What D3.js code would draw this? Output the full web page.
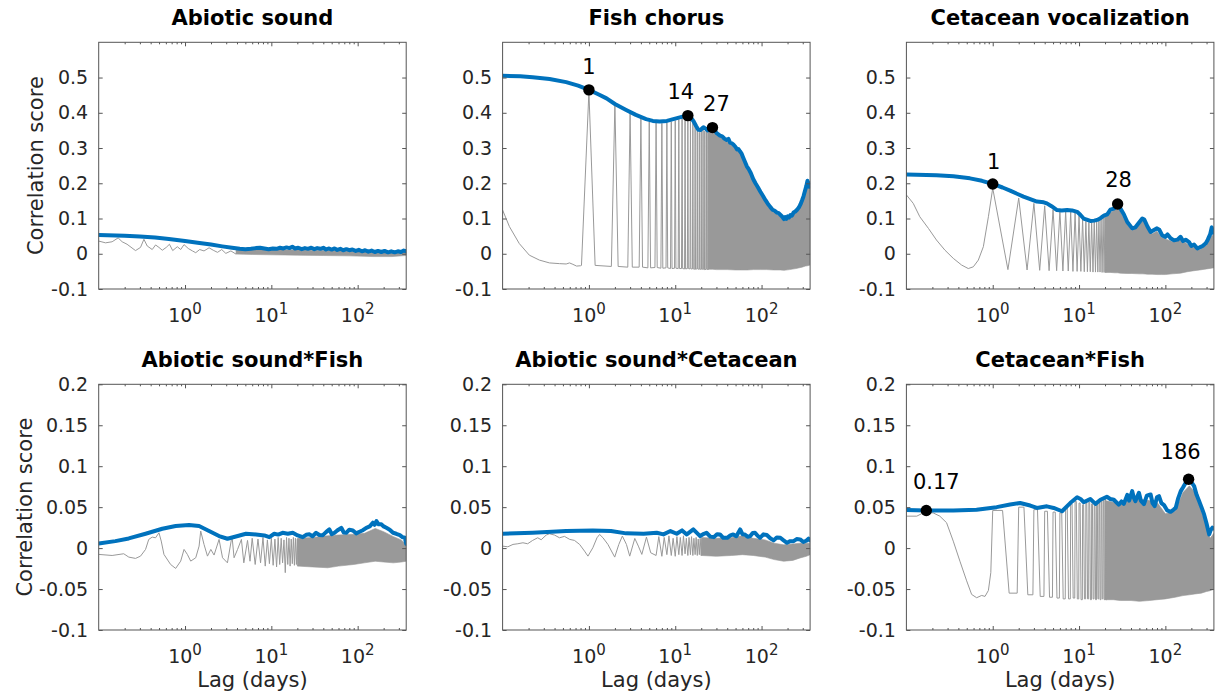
<!DOCTYPE html>
<html>
<head>
<meta charset="utf-8">
<script src="https://cdn.jsdelivr.net/npm/d3@7"></script>
<style>
  body { margin: 0; background: #fff; }
  svg { display: block; font-family: "DejaVu Sans", sans-serif; }
</style>
</head>
<body>
<svg id="chart" width="1220" height="694"></svg>
<script>
// ---------------- data ----------------
const lagDomain = [0.1, 365];
const xMajorTicks = [1, 10, 100];
const xMajorExponents = ["0", "1", "2"];
const yTicksTop = [-0.1, 0, 0.1, 0.2, 0.3, 0.4, 0.5];
const yTicksBottom = [-0.1, -0.05, 0, 0.05, 0.1, 0.15, 0.2];
const yDomainTop = [-0.1, 0.6];
const yDomainBottom = [-0.1, 0.2];
const panelTitles = ["Abiotic sound", "Fish chorus", "Cetacean vocalization",
                     "Abiotic sound*Fish", "Abiotic sound*Cetacean", "Cetacean*Fish"];
const yAxisLabel = "Correlation score";
const xAxisLabel = "Lag (days)";

// --- Abiotic sound ---
const abioticEnvelope = [[0.1,0.053],[0.2,0.051],[0.3,0.049],[0.45,0.046],[0.65,0.042],[1,0.036],[1.4,0.031],[2,0.026],[2.7,0.021],[3.5,0.017],[4.3,0.014],[5,0.013],[5.8,0.014],[6.6,0.016],[7.4,0.017],[8.3,0.015],[9.3,0.013],[10.4,0.015],[11.5,0.014],[12.6,0.017],[13.8,0.015],[15,0.018],[16.2,0.016],[17.5,0.02],[18.8,0.015],[20.5,0.017],[22.5,0.013],[24.5,0.016],[26.5,0.014],[29,0.017],[31.5,0.013],[34,0.016],[37,0.014],[40,0.017],[43,0.012],[46,0.015],[50,0.012],[54,0.015],[58,0.011],[63,0.014],[68,0.01],[74,0.013],[80,0.01],[87,0.012],[95,0.008],[103,0.011],[112,0.007],[122,0.01],[133,0.006],[145,0.009],[158,0.005],[172,0.008],[188,0.005],[205,0.008],[225,0.004],[245,0.007],[268,0.004],[292,0.007],[318,0.005],[342,0.009],[365,0.007]];
const abioticScoreHead = [[0.1,0.036],[0.12,0.031],[0.143,0.034],[0.168,0.045],[0.187,0.034],[0.213,0.027],[0.267,0.009],[0.305,0.018],[0.334,0.041],[0.365,0.022],[0.417,0.012],[0.456,0.025],[0.499,0.018],[0.545,0.01],[0.606,0.018],[0.66,0.027],[0.72,0.009],[0.814,0.02],[0.891,0.012],[0.974,0.026],[1.09,0.015],[1.22,0.008],[1.33,0.003],[1.48,0.012],[1.66,0.008],[1.9,0.017],[2.12,0.01],[2.38,0.004],[2.66,0.012],[2.97,0.001],[3.4,0.008],[3.9,-0.001]];
const abioticScoreBand = [[3.9,-0.001,0.012],[6,-0.002,0.012],[10,-0.003,0.011],[20,-0.004,0.011],[40,-0.005,0.009],[80,-0.006,0.007],[150,-0.008,0.004],[250,-0.008,0.004],[365,-0.005,0.005]];

// --- Fish chorus ---
const fishEnvelope = [[0.1,0.505],[0.16,0.504],[0.223,0.501],[0.35,0.496],[0.545,0.487],[0.75,0.477],[1,0.465],[1.3,0.452],[1.6,0.441],[2,0.425],[2.7,0.408],[3.5,0.394],[4.6,0.382],[5.5,0.377],[6.6,0.375],[8,0.377],[9.5,0.382],[11.3,0.387],[12.7,0.39],[14,0.392],[15.2,0.386],[16.3,0.376],[17.5,0.362],[18.5,0.352],[19.6,0.351],[21.2,0.359],[22.5,0.355],[23.6,0.35],[25,0.355],[27,0.358],[28.5,0.352],[30.2,0.342],[33,0.335],[35,0.333],[37,0.327],[39.5,0.323],[41.3,0.326],[43.2,0.315],[45.5,0.313],[47.5,0.309],[50,0.303],[52,0.296],[54,0.297],[56.5,0.29],[58.5,0.285],[61,0.274],[64,0.262],[67.5,0.248],[71,0.24],[75,0.229],[80,0.212],[85,0.2],[91,0.188],[97,0.176],[104,0.164],[111,0.152],[118,0.142],[126,0.133],[134,0.125],[142,0.122],[150,0.117],[158,0.115],[166,0.11],[174,0.105],[182,0.098],[188,0.104],[194,0.099],[201,0.106],[208,0.103],[216,0.11],[225,0.108],[235,0.117],[246,0.12],[258,0.125],[270,0.131],[282,0.14],[294,0.151],[306,0.163],[318,0.178],[330,0.192],[340,0.207],[348,0.196],[356,0.19],[365,0.2]];
const fishScoreHead = [[0.1,0.124],[0.12,0.077],[0.156,0.029],[0.204,-0.004],[0.267,-0.018],[0.349,-0.026],[0.456,-0.028],[0.545,-0.029],[0.596,-0.026],[0.652,-0.03],[0.72,-0.035],[0.8,-0.034]];
const fishDailyPeaks = [0.46,0.427,0.403,0.384,0.374,0.371,0.37,0.372,0.375,0.378,0.381,0.384,0.386,0.388,0.383,0.375,0.362,0.35,0.345,0.348,0.352,0.348,0.345,0.35];
const fishDailyTroughs = [-0.033,-0.036,-0.038,-0.038,-0.04,-0.039,-0.041,-0.04,-0.042,-0.041,-0.042,-0.042,-0.043,-0.042,-0.043,-0.043,-0.044,-0.043,-0.044,-0.044,-0.044,-0.045,-0.044,-0.045];
const fishScoreBand = [[24,-0.044,0.345],[27,-0.044,0.352],[30,-0.045,0.336],[40,-0.045,0.318],[50,-0.046,0.297],[57,-0.046,0.284],[68,-0.046,0.243],[81,-0.045,0.205],[97,-0.045,0.17],[115,-0.045,0.14],[138,-0.046,0.118],[165,-0.046,0.104],[182,-0.047,0.093],[210,-0.045,0.1],[250,-0.042,0.116],[294,-0.038,0.146],[322,-0.035,0.172],[340,-0.034,0.198],[365,-0.032,0.192]];
const fishMarkLags = [1, 14, 27];
const fishMarkScores = [0.465, 0.392, 0.358];

// --- Cetacean vocalization ---
const cetaceanEnvelope = [[0.1,0.225],[0.223,0.223],[0.35,0.22],[0.545,0.214],[0.75,0.207],[1,0.198],[1.3,0.188],[1.59,0.179],[2,0.168],[2.27,0.162],[2.72,0.155],[3.25,0.148],[3.9,0.146],[4.24,0.143],[4.8,0.135],[5.55,0.124],[6.3,0.123],[7.26,0.124],[8.3,0.123],[9.5,0.119],[10.4,0.11],[11.3,0.1],[12.5,0.096],[13.5,0.093],[15,0.094],[16.2,0.096],[17.7,0.101],[19.4,0.108],[21.2,0.112],[23.1,0.125],[25.3,0.128],[27,0.136],[28,0.141],[30.2,0.128],[33,0.112],[36.2,0.09],[41.3,0.072],[45,0.075],[49.4,0.088],[54,0.1],[57,0.097],[61.8,0.078],[67.5,0.062],[72,0.066],[80,0.072],[85,0.068],[92,0.052],[100,0.048],[106,0.055],[115,0.044],[126,0.038],[138,0.04],[150,0.048],[160,0.036],[172,0.04],[188,0.033],[200,0.022],[215,0.026],[235,0.015],[250,0.018],[270,0.022],[294,0.03],[310,0.04],[330,0.055],[345,0.075],[355,0.06],[365,0.067]];
const cetaceanScoreHead = [[0.1,0.167],[0.12,0.143],[0.143,0.105],[0.18,0.072],[0.223,0.039],[0.28,0.01],[0.349,-0.013],[0.436,-0.032],[0.521,-0.042],[0.596,-0.037],[0.681,-0.018],[0.779,0.02],[0.891,0.105]];
const cetaceanDailyPeaks = [0.186,0.158,0.143,0.136,0.125,0.121,0.12,0.118,0.116,0.108,0.098,0.092,0.089,0.09,0.091,0.094,0.097,0.1,0.104,0.107];
const cetaceanDailyTroughs = [-0.045,-0.046,-0.047,-0.048,-0.048,-0.049,-0.049,-0.05,-0.05,-0.05,-0.051,-0.051,-0.051,-0.052,-0.052,-0.052,-0.052,-0.053,-0.053,-0.053];
const cetaceanScoreBand = [[20,-0.053,0.103],[23,-0.053,0.116],[26,-0.054,0.126],[28,-0.054,0.133],[30,-0.055,0.12],[36,-0.056,0.083],[41,-0.056,0.066],[50,-0.057,0.083],[55,-0.057,0.094],[62,-0.058,0.07],[70,-0.058,0.056],[80,-0.059,0.064],[90,-0.059,0.047],[100,-0.059,0.042],[120,-0.057,0.035],[150,-0.055,0.04],[180,-0.051,0.028],[215,-0.048,0.018],[250,-0.046,0.011],[300,-0.043,0.024],[340,-0.041,0.05],[365,-0.04,0.055]];
const cetaceanMarkLags = [1, 28];
const cetaceanMarkScores = [0.198, 0.141];

// --- Abiotic sound * Fish ---
const abioticFishEnvelope = [[0.1,0.0057],[0.156,0.0085],[0.223,0.0118],[0.349,0.0175],[0.545,0.0236],[0.779,0.0269],[1.113,0.0281],[1.455,0.0269],[1.9,0.0208],[2.48,0.0147],[3.1,0.0114],[3.88,0.0142],[5.08,0.0175],[6.64,0.0167],[8.3,0.0155],[9.48,0.0134],[10.8,0.0175],[12,0.0165],[13.5,0.0187],[15.5,0.0176],[17.7,0.0187],[20.2,0.0155],[23.1,0.0134],[25.3,0.0162],[27.7,0.0168],[30,0.0145],[33,0.0187],[36,0.016],[39.5,0.0158],[43,0.0195],[47,0.0228],[50,0.017],[54,0.0187],[58,0.0215],[64.6,0.0248],[69,0.019],[73.8,0.0187],[80,0.0225],[88,0.0215],[96,0.018],[105,0.0199],[115,0.0218],[126,0.0248],[138,0.0265],[150,0.031],[157,0.0285],[165,0.033],[175,0.029],[188,0.029],[200,0.0265],[215,0.0248],[235,0.0225],[257,0.0187],[280,0.0175],[308,0.0159],[330,0.0135],[352,0.0126],[365,0.0053]];
const abioticFishScoreHead = [[0.1,-0.0077],[0.143,-0.009],[0.195,-0.0069],[0.223,-0.011],[0.267,-0.0126],[0.305,-0.0098],[0.349,-0.0016],[0.38,0.0106],[0.417,0.0134],[0.456,0.0126],[0.499,0.0187],[0.53,0.0086],[0.57,-0.0077],[0.681,-0.02],[0.779,-0.0248],[0.891,-0.0159],[0.974,-0.0016],[1.064,-0.0077],[1.164,-0.0159],[1.331,-0.0118],[1.455,0.0024],[1.52,0.0208],[1.66,0.0045],[1.82,-0.0098],[1.99,-0.0016],[2.17,-0.0085],[2.48,0.0106],[2.72,-0.0118],[3.1,-0.018],[3.5,0.0147],[3.7,-0.0118],[4.06,-0.0016],[4.5,0.0106],[4.8,-0.018],[5.3,0.0094],[5.66,-0.016]];
const abioticFishDailyPeaks = [0.012,0.011,0.013,0.01,0.012,0.011,0.013,0.012,0.01,0.013,0.012,0.011,0.013,0.012,0.011];
const abioticFishDailyTroughs = [-0.02,-0.018,-0.022,-0.019,-0.021,-0.023,-0.02,-0.018,-0.03,-0.02,-0.022,-0.019,-0.021,-0.02,-0.022];
const abioticFishScoreBand = [[20,-0.022,0.012],[30,-0.023,0.013],[45,-0.024,0.015],[60,-0.022,0.016],[90,-0.02,0.017],[120,-0.018,0.018],[160,-0.016,0.024],[200,-0.017,0.02],[260,-0.018,0.014],[320,-0.017,0.01],[365,-0.016,0.004]];

// --- Abiotic sound * Cetacean ---
const abioticCetaceanEnvelope = [[0.1,0.0175],[0.223,0.0187],[0.545,0.0208],[1.11,0.0216],[1.8,0.0208],[2.7,0.018],[4.3,0.0175],[6.1,0.0187],[7.3,0.0167],[8.8,0.0208],[10.4,0.0175],[12,0.0216],[13.6,0.0167],[16.2,0.0228],[19.4,0.0147],[21.5,0.0175],[23,0.0187],[25.5,0.014],[28,0.0134],[30.5,0.017],[33,0.0167],[36,0.0125],[40,0.0126],[43.5,0.0155],[47,0.0167],[51,0.0145],[56.5,0.0228],[60,0.017],[64,0.0167],[69,0.0138],[74,0.0147],[79,0.0185],[84,0.0187],[90,0.015],[96,0.0126],[105,0.0168],[115,0.0159],[126,0.012],[138,0.0094],[150,0.013],[165,0.0126],[180,0.0095],[197,0.0065],[215,0.0085],[235,0.0085],[255,0.011],[280,0.0106],[305,0.0075],[330,0.009],[350,0.0115],[365,0.0094]];
const abioticCetaceanScoreHead = [[0.1,0.0024],[0.115,0.0016],[0.132,0.0045],[0.15,0.0053],[0.172,0.0065],[0.195,0.0053],[0.223,0.0094],[0.255,0.0126],[0.28,0.0102],[0.32,0.0159],[0.349,0.0175],[0.4,0.0159],[0.456,0.0126],[0.521,0.0143],[0.6,0.0106],[0.68,0.0094],[0.78,0.0045],[0.89,-0.0037],[0.974,-0.0098],[1.11,0.0004],[1.24,0.0126],[1.33,0.0167],[1.455,0.0126],[1.66,0.0045],[1.99,-0.011],[2.22,0.0045],[2.44,0.0147],[2.72,0.0045],[2.97,-0.0098],[3.4,0.0118],[3.74,0.0024],[4.1,-0.0077],[4.64,0.0134],[5.2,-0.0057]];
const abioticCetaceanDailyPeaks = [0.014,0.013,0.015,0.012,0.014,0.013,0.015,0.012,0.013,0.014,0.012,0.013,0.011,0.012,0.011];
const abioticCetaceanDailyTroughs = [-0.009,-0.01,-0.008,-0.009,-0.01,-0.008,-0.009,-0.007,-0.009,-0.008,-0.009,-0.008,-0.009,-0.008,-0.009];
const abioticCetaceanScoreBand = [[20,-0.009,0.013],[30,-0.01,0.012],[45,-0.009,0.013],[60,-0.008,0.015],[80,-0.009,0.012],[110,-0.011,0.01],[140,-0.014,0.006],[180,-0.016,0.004],[230,-0.015,0.005],[280,-0.012,0.006],[330,-0.01,0.006],[365,-0.008,0.006]];

// --- Cetacean * Fish ---
const cetaceanFishEnvelope = [[0.1,0.0464],[0.17,0.046],[0.35,0.046],[0.65,0.0468],[1.11,0.05],[1.59,0.0533],[2.08,0.055],[2.72,0.052],[3.25,0.049],[4.24,0.051],[5.08,0.049],[6.35,0.045],[7.9,0.055],[9.5,0.062],[10.4,0.06],[11.3,0.056],[12.4,0.058],[13.5,0.06],[15.5,0.054],[17.7,0.059],[21,0.0627],[23,0.06],[25.3,0.059],[28.8,0.053],[31,0.057],[33,0.054],[36.2,0.065],[38,0.058],[41.3,0.0696],[43,0.062],[45,0.0574],[49.4,0.0676],[52,0.058],[56.5,0.0537],[61,0.064],[67.5,0.0655],[71,0.055],[75.2,0.0513],[80,0.062],[84.4,0.0635],[90,0.055],[96.5,0.0525],[105,0.046],[115,0.0443],[125,0.047],[131.9,0.0492],[140,0.06],[150.7,0.0696],[160,0.074],[172,0.0798],[186,0.084],[193.5,0.0818],[205,0.079],[215.4,0.0757],[230,0.065],[246,0.0574],[262,0.05],[281,0.0411],[300,0.03],[322,0.0167],[335,0.022],[351,0.025],[365,0.024]];
const cetaceanFishScoreHead = [[0.1,0.039],[0.132,0.039],[0.15,0.042],[0.168,0.0435],[0.204,0.043],[0.244,0.039],[0.292,0.031],[0.349,0.0085],[0.417,-0.016],[0.499,-0.04],[0.57,-0.0566],[0.652,-0.0606],[0.745,-0.0578],[0.814,-0.059],[0.891,-0.0517],[0.95,-0.03]];
const cetaceanFishDailyPeaks = [0.046,0.05,0.047,0.045,0.044,0.043,0.05,0.054,0.057,0.055,0.053,0.055,0.056,0.054,0.053,0.055,0.057,0.058,0.059,0.06];
const cetaceanFishDailyTroughs = [-0.055,-0.057,-0.059,-0.06,-0.061,-0.062,-0.062,-0.061,-0.062,-0.063,-0.062,-0.062,-0.063,-0.062,-0.063,-0.062,-0.063,-0.062,-0.063,-0.063];
const cetaceanFishScoreBand = [[20,-0.063,0.058],[25,-0.063,0.056],[30,-0.064,0.054],[40,-0.064,0.062],[50,-0.065,0.06],[65,-0.064,0.058],[80,-0.063,0.056],[100,-0.062,0.042],[130,-0.06,0.045],[160,-0.058,0.068],[190,-0.057,0.076],[220,-0.056,0.068],[260,-0.055,0.045],[300,-0.053,0.025],[330,-0.052,0.012],[365,-0.05,0.018]];
const cetaceanFishMarkLags = [0.17, 186];
const cetaceanFishMarkScores = [0.046, 0.084];

// ---------------- layout & style ----------------
const colLeft = [98.7, 502.6, 906.4];
const plotWidth = 307.5;
const rowTop = [42.3, 384.3];
const rowHeight = [246.7, 245.7];
const envelopeColor = "#0072BD";
const scoreColor = "#999999";
const textColor = "#262626";
const frameColor = "#555555";
const tickFont = 19;
const labelFont = 21;
const titleFont = 21;

// one daily cycle of the lagged score, as offsets from the day and the level used
const spikeCycle = [[-0.18, "t"], [0, "p"], [0.18, "t"]];
const veeCycle = [[0, "p"], [0.5, "t"]];
const veeCycleLate = [[0, "t"], [0.45, "p"]];
const squareCycle = [[0, "p"], [0.3, "p"], [0.55, "t"], [0.92, "t"]];

const panels = [
  { row: 0, col: 0, envelope: abioticEnvelope, head: abioticScoreHead, band: abioticScoreBand },
  { row: 0, col: 1, envelope: fishEnvelope, head: fishScoreHead, band: fishScoreBand,
    daily: { start: 1, peaks: fishDailyPeaks, troughs: fishDailyTroughs, cycle: spikeCycle },
    marks: { lags: fishMarkLags, scores: fishMarkScores, offsets: [[0, -16], [-7, -17], [4, -17]] } },
  { row: 0, col: 2, envelope: cetaceanEnvelope, head: cetaceanScoreHead, band: cetaceanScoreBand,
    daily: { start: 1, peaks: cetaceanDailyPeaks, troughs: cetaceanDailyTroughs, cycle: veeCycle },
    marks: { lags: cetaceanMarkLags, scores: cetaceanMarkScores, offsets: [[1, -15], [1, -17]] } },
  { row: 1, col: 0, envelope: abioticFishEnvelope, head: abioticFishScoreHead, band: abioticFishScoreBand,
    daily: { start: 6, peaks: abioticFishDailyPeaks, troughs: abioticFishDailyTroughs, cycle: veeCycle } },
  { row: 1, col: 1, envelope: abioticCetaceanEnvelope, head: abioticCetaceanScoreHead, band: abioticCetaceanScoreBand,
    daily: { start: 6, peaks: abioticCetaceanDailyPeaks, troughs: abioticCetaceanDailyTroughs, cycle: veeCycleLate } },
  { row: 1, col: 2, envelope: cetaceanFishEnvelope, head: cetaceanFishScoreHead, band: cetaceanFishScoreBand,
    daily: { start: 1, peaks: cetaceanFishDailyPeaks, troughs: cetaceanFishDailyTroughs, cycle: squareCycle },
    marks: { lags: cetaceanFishMarkLags, scores: cetaceanFishMarkScores, offsets: [[10, -21], [-8, -20]] } }
];

function dailyPoints(daily) {
  const pts = [];
  daily.peaks.forEach((p, i) => {
    const day = daily.start + i;
    daily.cycle.forEach(([off, lvl]) => pts.push([day + off, lvl === "p" ? p : daily.troughs[i]]));
  });
  return pts;
}

function tickText(v) {
  return String(+v.toFixed(2));
}

const svg = d3.select("#chart");
const defs = svg.append("defs");

panels.forEach((pn, idx) => {
  const left = colLeft[pn.col], top = rowTop[pn.row], h = rowHeight[pn.row];
  const yDomain = pn.row === 0 ? yDomainTop : yDomainBottom;
  const yTicks = pn.row === 0 ? yTicksTop : yTicksBottom;

  const x = d3.scaleLog().domain(lagDomain).range([0, plotWidth]);
  const y = d3.scaleLinear().domain(yDomain).range([h, 0]);

  const g = svg.append("g").attr("transform", `translate(${left},${top})`);

  const clipId = "clip" + idx;
  defs.append("clipPath").attr("id", clipId)
    .append("rect").attr("x", 0).attr("y", 0).attr("width", plotWidth).attr("height", h);

  const plot = g.append("g").attr("clip-path", `url(#${clipId})`);

  // dense part of the lagged score as a filled band
  plot.append("path")
    .datum(pn.band)
    .attr("fill", scoreColor)
    .attr("stroke", scoreColor)
    .attr("stroke-width", 0.6)
    .attr("d", d3.area().x(d => x(d[0])).y0(d => y(d[1])).y1(d => y(d[2])));

  // sparse part of the lagged score as a thin line
  const scoreLine = pn.head.concat(pn.daily ? dailyPoints(pn.daily) : []);
  plot.append("path")
    .datum(scoreLine)
    .attr("fill", "none")
    .attr("stroke", scoreColor)
    .attr("stroke-width", 1)
    .attr("stroke-linejoin", "round")
    .attr("d", d3.line().x(d => x(d[0])).y(d => y(d[1])));

  // upper envelope
  plot.append("path")
    .datum(pn.envelope)
    .attr("fill", "none")
    .attr("stroke", envelopeColor)
    .attr("stroke-width", 4)
    .attr("stroke-linejoin", "round")
    .attr("stroke-linecap", "round")
    .attr("d", d3.line().x(d => x(d[0])).y(d => y(d[1])));

  // frame
  g.append("rect")
    .attr("x", 0).attr("y", 0).attr("width", plotWidth).attr("height", h)
    .attr("fill", "none").attr("stroke", frameColor).attr("stroke-width", 1);

  // axes with inward ticks
  const minorTicks = x.ticks().filter(t => !xMajorTicks.includes(t) && t > lagDomain[0]);
  const styleAxis = sel => {
    sel.select(".domain").remove();
    sel.selectAll(".tick line").attr("stroke", frameColor);
    sel.selectAll(".tick text").attr("fill", textColor);
  };

  g.append("g").attr("transform", `translate(0,${h})`)
    .call(d3.axisBottom(x).tickValues(xMajorTicks).tickSize(-4).tickFormat(""))
    .call(styleAxis);
  g.append("g").attr("transform", `translate(0,${h})`)
    .call(d3.axisBottom(x).tickValues(minorTicks).tickSize(-2).tickFormat(""))
    .call(styleAxis);
  g.append("g")
    .call(d3.axisTop(x).tickValues(xMajorTicks).tickSize(-4).tickFormat(""))
    .call(styleAxis);
  g.append("g")
    .call(d3.axisTop(x).tickValues(minorTicks).tickSize(-2).tickFormat(""))
    .call(styleAxis);

  g.append("g")
    .call(d3.axisLeft(y).tickValues(yTicks).tickSize(-4).tickPadding(10.5).tickFormat(tickText))
    .call(styleAxis)
    .call(s => s.selectAll(".tick text")
      .attr("font-size", tickFont).attr("font-family", "DejaVu Sans, sans-serif"));
  g.append("g").attr("transform", `translate(${plotWidth},0)`)
    .call(d3.axisRight(y).tickValues(yTicks).tickSize(-4).tickFormat(""))
    .call(styleAxis);

  // decade labels 10^n
  xMajorTicks.forEach((t, i) => {
    const txt = g.append("text")
      .attr("x", x(t)).attr("y", h + 33.5)
      .attr("text-anchor", "middle")
      .attr("font-size", tickFont)
      .attr("fill", textColor)
      .text("10");
    txt.append("tspan")
      .attr("dy", -8.5)
      .attr("font-size", 15)
      .text(xMajorExponents[i]);
  });

  // title
  g.append("text")
    .attr("x", plotWidth / 2).attr("y", -17.5)
    .attr("text-anchor", "middle")
    .attr("font-size", titleFont)
    .attr("font-weight", "bold")
    .attr("fill", "#000")
    .text(panelTitles[idx]);

  if (pn.col === 0) {
    g.append("text")
      .attr("transform", `translate(${(pn.row === 0 ? 43.3 : 32.3) - left},${h / 2}) rotate(-90)`)
      .attr("text-anchor", "middle")
      .attr("font-size", labelFont)
      .attr("fill", textColor)
      .text(yAxisLabel);
  }
  if (pn.row === 1) {
    g.append("text")
      .attr("x", plotWidth / 2).attr("y", h + 57)
      .attr("text-anchor", "middle")
      .attr("font-size", labelFont)
      .attr("fill", textColor)
      .text(xAxisLabel);
  }

  // marked lags
  if (pn.marks) {
    pn.marks.lags.forEach((lag, i) => {
      const cx = x(lag), cy = y(pn.marks.scores[i]);
      g.append("circle").attr("cx", cx).attr("cy", cy).attr("r", 5.7).attr("fill", "#000");
      g.append("text")
        .attr("x", cx + pn.marks.offsets[i][0])
        .attr("y", cy + pn.marks.offsets[i][1])
        .attr("text-anchor", "middle")
        .attr("font-size", labelFont)
        .attr("fill", "#000")
        .text(String(lag));
    });
  }
});
</script>
</body>
</html>
